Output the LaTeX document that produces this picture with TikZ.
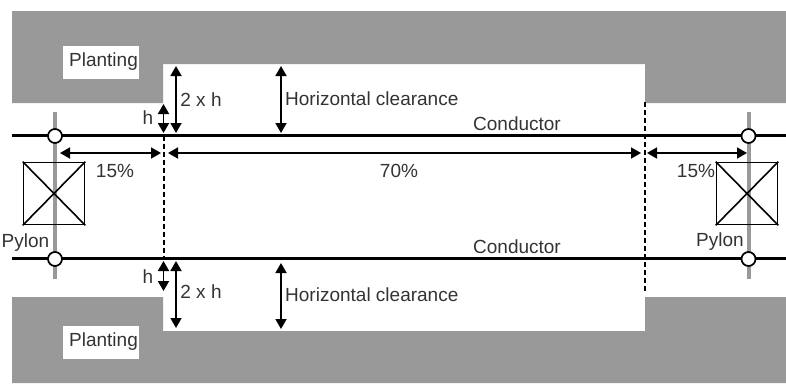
\documentclass[tikz,border=0pt]{standalone}
\usepackage{fontspec}
\setmainfont{Liberation Sans}
\usetikzlibrary{arrows.meta}
\definecolor{plantgrey}{HTML}{999999}
\definecolor{txtgrey}{HTML}{333333}
\tikzset{
  x=1pt,y=-1pt,
  label text/.style={font=\fontsize{19}{22}\selectfont,text=txtgrey,inner sep=0pt},
  plant box/.style={fill=white,text=txtgrey,font=\fontsize{19}{22}\selectfont,minimum width=76pt,minimum height=33pt,inner sep=0pt},
  conductor/.style={line width=2.6pt,black},
  pylon pole/.style={line width=4.5pt,plantgrey},
  insulator/.style={circle,draw=black,fill=white,line width=1.7pt,minimum size=14pt,inner sep=0pt},
  pylon box/.style={draw=black,line width=1.6pt,minimum width=61pt,minimum height=62pt,inner sep=0pt},
  dim/.style={line width=1.8pt,{Triangle[width=11pt,length=10pt]}-{Triangle[width=11pt,length=10pt]}},
  limit/.style={line width=2pt,dash pattern=on 5pt off 3pt},
}
\begin{document}
\begin{tikzpicture}
\useasboundingbox (0,0) rectangle (786,383);
% planting
\fill[plantgrey] (12,11) -- (786,11) -- (786,103) -- (645,103) -- (645,64) -- (163,64) -- (163,103) -- (12,103) -- cycle;
\fill[plantgrey] (12,297) -- (163,297) -- (163,331) -- (645,331) -- (645,297) -- (786,297) -- (786,383) -- (12,383) -- cycle;
\node[plant box] (planttop) at (101,62) {\hspace*{5pt}Planting};
\node[plant box] (plantbot) at (101,342) {\hspace*{5pt}Planting};
% pylon poles
\coordinate (lpt) at (55,112); \coordinate (lpb) at (55,279);
\coordinate (rpt) at (749,112); \coordinate (rpb) at (749,279);
\draw[pylon pole] (lpt) -- (lpb);
\draw[pylon pole] (rpt) -- (rpb);
% pylon boxes
\node[pylon box] (lbox) at (54,193.5) {};
\node[pylon box] (rbox) at (747,193.5) {};
\draw[line width=1.6pt] (lbox.north west) -- (lbox.south east) (lbox.north east) -- (lbox.south west);
\draw[line width=1.6pt] (rbox.north west) -- (rbox.south east) (rbox.north east) -- (rbox.south west);
% conductors
\coordinate (c1l) at (12,135.5); \coordinate (c1r) at (786,135.5);
\coordinate (c2l) at (12,258.6); \coordinate (c2r) at (786,258.6);
\draw[conductor] (c1l) -- (c1r);
\draw[conductor] (c2l) -- (c2r);
\node[insulator] (i1) at (55,136) {};
\node[insulator] (i2) at (748.5,136) {};
\node[insulator] (i3) at (55,259) {};
\node[insulator] (i4) at (748.5,259) {};
% limits
\coordinate (dla) at (163.5,135.5); \coordinate (dlb) at (163.5,259);
\coordinate (dra) at (644.5,102); \coordinate (drb) at (644.5,293);
\draw[limit] (dla) -- (dlb);
\draw[limit] (dra) -- (drb);
% horizontal dims
\coordinate (h1a) at (60,153); \coordinate (h1b) at (161,153);
\coordinate (h2a) at (168,153); \coordinate (h2b) at (641,153);
\coordinate (h3a) at (647,153); \coordinate (h3b) at (747,153);
\draw[dim] (h1a) -- (h1b);
\draw[dim] (h2a) -- (h2b);
\draw[dim] (h3a) -- (h3b);
% vertical dims top
\coordinate (v1a) at (163.5,104); \coordinate (v1b) at (163.5,133);
\coordinate (v2a) at (176,66); \coordinate (v2b) at (176,133);
\coordinate (v3a) at (281,66); \coordinate (v3b) at (281,133);
\draw[dim] (v1a) -- (v1b);
\draw[dim] (v2a) -- (v2b);
\draw[dim] (v3a) -- (v3b);
% vertical dims bottom
\coordinate (v4a) at (163.5,261); \coordinate (v4b) at (163.5,291);
\coordinate (v5a) at (176,261); \coordinate (v5b) at (176,328);
\coordinate (v6a) at (281,263); \coordinate (v6b) at (281,329);
\draw[dim] (v4a) -- (v4b);
\draw[dim] (v5a) -- (v5b);
\draw[dim] (v6a) -- (v6b);
% labels
\node[label text,anchor=west] (t1) at (285,99) {Horizontal clearance};
\node[label text,anchor=west] (t2) at (285,295) {Horizontal clearance};
\node[label text] (t3) at (517,124) {Conductor};
\node[label text] (t4) at (517,247) {Conductor};
\node[label text] (t5) at (399,171) {70\%};
\node[label text] (t6) at (115,171) {15\%};
\node[label text] (t7) at (696,171) {15\%};
\node[label text] (t8) at (25.5,243) {Pylon};
\node[label text] (t9) at (720,242) {Pylon};
\node[label text] (t10) at (148,118) {h};
\node[label text] (t11) at (148,277) {h};
\node[label text] (t12) at (201,100) {2 x h};
\node[label text] (t13) at (201,292) {2 x h};
\end{tikzpicture}
\end{document}
